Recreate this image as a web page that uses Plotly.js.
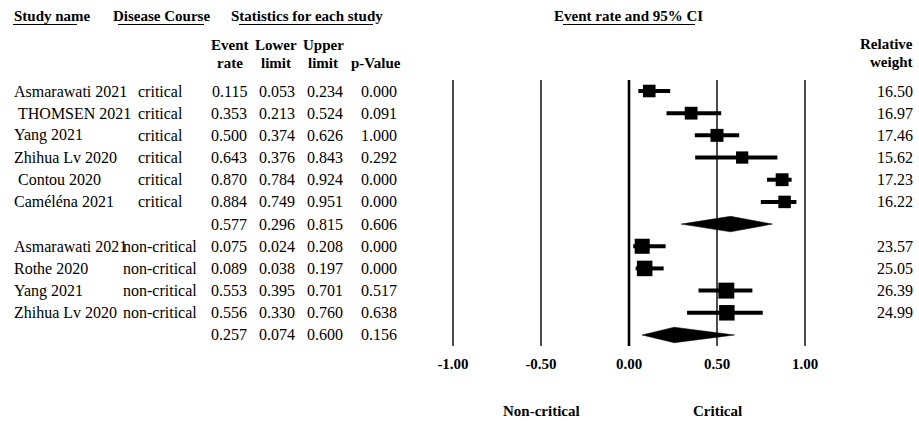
<!DOCTYPE html>
<html>
<head>
<meta charset="utf-8">
<script src="https://cdn.plot.ly/plotly-3.0.1.min.js"></script>
<style>html,body{margin:0;padding:0;background:#fff;}</style>
</head>
<body>
<div id="chart" style="width:919px;height:421px;"></div>
<script>
// ---------------- data ----------------
const critStudies = ['Asmarawati 2021', '\u00a0THOMSEN 2021', 'Yang 2021', 'Zhihua Lv 2020', '\u00a0Contou 2020', 'Caméléna 2021'];
const critRate    = [0.115, 0.353, 0.500, 0.643, 0.870, 0.884];
const critLower   = [0.053, 0.213, 0.374, 0.376, 0.784, 0.749];
const critUpper   = [0.234, 0.524, 0.626, 0.843, 0.924, 0.951];
const critP       = [0.000, 0.091, 1.000, 0.292, 0.000, 0.000];
const critWeight  = [16.50, 16.97, 17.46, 15.62, 17.23, 16.22];
const critSummary = [0.577, 0.296, 0.815, 0.606]; // rate, lower, upper, p

const nonStudies  = ['Asmarawati 2021', 'Rothe 2020', 'Yang 2021', 'Zhihua Lv 2020'];
const nonRate     = [0.075, 0.089, 0.553, 0.556];
const nonLower    = [0.024, 0.038, 0.395, 0.330];
const nonUpper    = [0.208, 0.197, 0.701, 0.760];
const nonP        = [0.000, 0.000, 0.517, 0.638];
const nonWeight   = [23.57, 25.05, 26.39, 24.99];
const nonSummary  = [0.257, 0.074, 0.600, 0.156];

const groupLabels = ['critical', 'non-critical'];
const tickVals    = [-1, -0.5, 0, 0.5, 1];
const tickText    = ['-1.00', '-0.50', '0.00', '0.50', '1.00'];
const sideLabels  = ['Non-critical', 'Critical'];

// ---------------- layout constants ----------------
const W = 919, H = 421;
const X0 = 629, UNIT = 176;          // pixel of x=0 and pixels per unit
const ROW0 = 91, ROWH = 22.18;       // pixel of first row and row pitch
const AXB = 350;                      // pixel bottom of plot area
const R = px => (px - ROW0) / ROWH;  // pixel y -> row coordinate
const PX = px => px / W;             // pixel x -> paper
const PY = py => 1 - py / H;         // pixel y -> paper
const FONT = 'Liberation Serif, Times New Roman, serif';
const INK = '#000000';

// rows
const groups = [
  {names: critStudies, rate: critRate, lo: critLower, hi: critUpper, p: critP, w: critWeight, sum: critSummary, label: groupLabels[0]},
  {names: nonStudies, rate: nonRate, lo: nonLower, hi: nonUpper, p: nonP, w: nonWeight, sum: nonSummary, label: groupLabels[1]}
];

const traces = [];
const annotations = [];
const shapes = [];

function txt(text, xpx, row, anchor, opts) {
  opts = opts || {};
  annotations.push({
    text: text, xref: 'paper', yref: 'y', x: PX(xpx), y: row,
    xanchor: anchor, yanchor: 'middle', showarrow: false,
    font: {family: FONT, size: opts.size || 16, color: INK, weight: opts.bold ? 'bold' : 'normal'}
  });
}

let row = 0;
groups.forEach(g => {
  const ys = [];
  g.names.forEach((n, i) => {
    ys.push(row);
    txt(n, 12, row, 'left');
    txt(g.label, 160, row, 'center');
    txt(g.rate[i].toFixed(3), 249, row, 'right');
    txt(g.lo[i].toFixed(3), 297, row, 'right');
    txt(g.hi[i].toFixed(3), 345, row, 'right');
    txt(g.p[i].toFixed(3), 399, row, 'right');
    txt(g.w[i].toFixed(2), 915, row, 'right');
    row++;
  });
  // study squares with CI
  traces.push({
    type: 'scatter', mode: 'markers', x: g.rate, y: ys,
    marker: {symbol: 'square', color: INK, opacity: 1, size: g.w.map(v => 3.1 * Math.sqrt(v)), line: {width: 0}},
    error_x: {type: 'data', symmetric: false,
      array: g.hi.map((v, i) => v - g.rate[i]),
      arrayminus: g.lo.map((v, i) => g.rate[i] - v),
      color: INK, thickness: 4, width: 0},
    hoverinfo: 'skip', showlegend: false
  });
  // summary row
  txt(g.sum[0].toFixed(3), 249, row, 'right');
  txt(g.sum[1].toFixed(3), 297, row, 'right');
  txt(g.sum[2].toFixed(3), 345, row, 'right');
  txt(g.sum[3].toFixed(3), 399, row, 'right');
  const h = 0.35;
  traces.push({
    type: 'scatter', mode: 'lines', fill: 'toself', fillcolor: INK,
    x: [g.sum[1], g.sum[0], g.sum[2], g.sum[0], g.sum[1]],
    y: [row, row - h, row, row + h, row],
    line: {color: INK, width: 0.5}, hoverinfo: 'skip', showlegend: false
  });
  row++;
});

// vertical reference lines
tickVals.forEach(v => {
  shapes.push({type: 'line', xref: 'x', yref: 'y', x0: v, x1: v, y0: -0.5, y1: row - 0.5,
    line: {color: INK, width: v === 0 ? 2.6 : 1.4}, layer: 'below'});
});

// headers
txt('Study name', 12, R(16), 'left', {bold: true, size: 15});
txt('Disease Course', 111, R(16), 'left', {bold: true, size: 15});
txt('Statistics for each study', 229, R(16), 'left', {bold: true, size: 15});
txt('Event rate and 95% CI', 628, R(16), 'center', {bold: true, size: 15});
txt('Event', 230, R(45), 'center', {bold: true, size: 15});
txt('rate', 230, R(63), 'center', {bold: true, size: 15});
txt('Lower', 276, R(45), 'center', {bold: true, size: 15});
txt('limit', 276, R(63), 'center', {bold: true, size: 15});
txt('Upper', 323, R(45), 'center', {bold: true, size: 15});
txt('limit', 323, R(63), 'center', {bold: true, size: 15});
txt('p-Value', 376, R(63), 'center', {bold: true, size: 15});
txt('Relative', 915, R(44), 'right', {bold: true, size: 15});
txt('weight', 915, R(62), 'right', {bold: true, size: 15});

// header underlines
[[13, 77], [118, 204], [239, 373], [563, 695]].forEach(s => {
  shapes.push({type: 'line', xref: 'paper', yref: 'paper', x0: PX(s[0]), x1: PX(s[1]), y0: PY(24.5), y1: PY(24.5),
    line: {color: INK, width: 1.2}});
});

// bottom side labels
[[541, sideLabels[0]], [717, sideLabels[1]]].forEach(s => {
  annotations.push({text: s[1], xref: 'paper', yref: 'paper', x: PX(s[0]), y: PY(411),
    xanchor: 'center', yanchor: 'middle', showarrow: false,
    font: {family: FONT, size: 15, color: INK, weight: 'bold'}});
});

const layout = {
  width: W, height: H,
  margin: {l: 0, r: 0, t: 0, b: 0},
  paper_bgcolor: '#ffffff', plot_bgcolor: '#ffffff',
  showlegend: false,
  xaxis: {range: [(0 - X0) / UNIT, (W - X0) / UNIT], domain: [0, 1],
    tickvals: tickVals, ticktext: tickText, ticks: '', showgrid: false, zeroline: false, showline: false,
    tickfont: {family: FONT, size: 15, color: INK, weight: 'bold'}, ticklabelstandoff: 3, fixedrange: true},
  yaxis: {range: [R(AXB), R(0)], domain: [(H - AXB) / H, 1],
    showticklabels: false, ticks: '', showgrid: false, zeroline: false, showline: false, fixedrange: true},
  shapes: shapes,
  annotations: annotations
};

Plotly.newPlot('chart', traces, layout, {staticPlot: true, displayModeBar: false});
</script>
</body>
</html>
